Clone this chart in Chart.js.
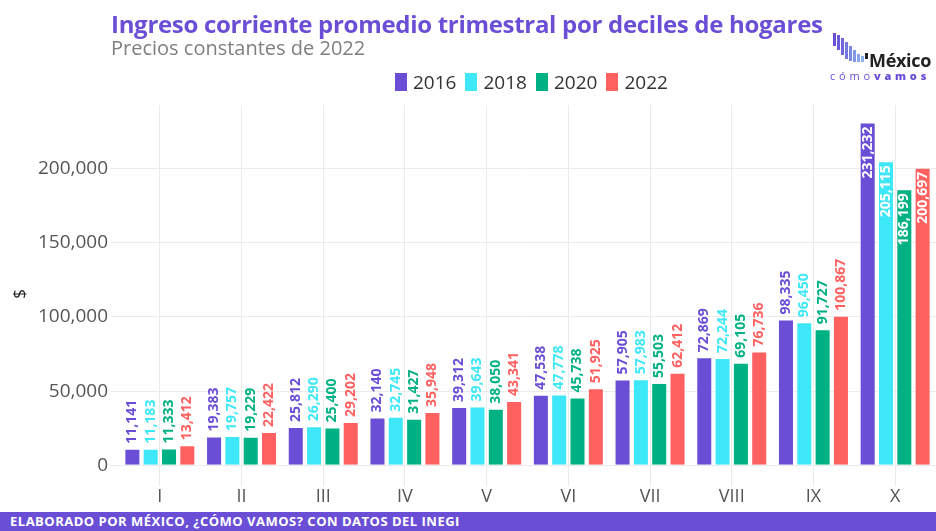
<!DOCTYPE html>
<html>
<head>
<meta charset="utf-8">
<script src="https://cdn.jsdelivr.net/npm/chart.js@4.4.0/dist/chart.umd.min.js"></script>
<style>
  body { margin: 0; background: #fff; }
  #wrap { position: relative; width: 936px; height: 531px; overflow: hidden; font-family: "Open Sans", sans-serif; }
  #chart { position: absolute; left: 0; top: 0; }
  .title { position: absolute; left: 111px; top: 12px; font-size: 24px; line-height: 1; font-weight: 700; color: #6a4fd6; letter-spacing: -0.3px; white-space: nowrap; }
  .subtitle { position: absolute; left: 111px; top: 38px; font-size: 20px; line-height: 1; color: #7f7f7f; white-space: nowrap; }
  #legend { position: absolute; left: 395px; top: 73px; display: flex; height: 18px; align-items: center; }
  #legend .item { display: flex; align-items: center; margin-right: 9px; }
  #legend .box { width: 12px; height: 18px; margin-right: 6px; }
  #legend .lbl { font-size: 19px; color: #333; line-height: 1; }
  .footer { position: absolute; left: 0; top: 512px; width: 936px; height: 19px; background: #6a4fd6; }
  .footer span { position: absolute; left: 10px; top: 3px; font-size: 13px; line-height: 1; font-weight: 700; color: #fff; letter-spacing: 0.5px; white-space: nowrap; }
  .logo-bars span { position: absolute; width: 3px; }
  .logo-name { position: absolute; left: 869px; top: 51px; font-size: 18px; font-weight: 700; color: #222; line-height: 1; letter-spacing: -0.3px; }
  .logo-sub { position: absolute; left: 830px; top: 70px; font-size: 11px; color: #6a4fd6; letter-spacing: 3.8px; line-height: 1; }
  .logo-sub b { font-weight: 800; }
</style>
</head>
<body>
<div id="wrap">
  <canvas id="chart" width="936" height="531"></canvas>
  <div class="title">Ingreso corriente promedio trimestral por deciles de hogares</div>
  <div class="subtitle">Precios constantes de 2022</div>
  <div id="legend"></div>
  <div class="logo-bars" id="logoBars"></div>
  <div class="logo-name">México</div>
  <div class="logo-sub">cómo<b>vamos</b></div>
  <div class="footer"><span>ELABORADO POR MÉXICO, ¿CÓMO VAMOS? CON DATOS DEL INEGI</span></div>
</div>
<script>
// Deciles
const deciles = ["I", "II", "III", "IV", "V", "VI", "VII", "VIII", "IX", "X"];
const years = ["2016", "2018", "2020", "2022"];
// Ingreso corriente promedio trimestral (pesos de 2022)
const values2016 = [11141, 19383, 25812, 32140, 39312, 47538, 57905, 72869, 98335, 231232];
const values2018 = [11183, 19757, 26290, 32745, 39643, 47778, 57983, 72244, 96450, 205115];
const values2020 = [11333, 19229, 25400, 31427, 38050, 45738, 55503, 69105, 91727, 186199];
const values2022 = [13412, 22422, 29202, 35948, 43341, 51925, 62412, 76736, 100867, 200697];
const yTicks = [0, 50000, 100000, 150000, 200000];

const colors = ["#6a4fd6", "#3ee8f8", "#00b283", "#ff6060"];
const INSIDE_LABEL_MIN = 150000; // labels go inside the bar above this

const seriesValues = [values2016, values2018, values2020, values2022];

//Build legend
const legend = document.getElementById("legend");
years.forEach((y, i) => {
  let item = document.createElement("div");
  item.className = "item";
  item.innerHTML = `<div class="box" style="background:${colors[i]}"></div><div class="lbl">${y}</div>`;
  legend.appendChild(item);
});

//Logo bars (decoration)
const logoBars = document.getElementById("logoBars");
const barShapes = [[833, 33, 13], [837, 35, 15], [841, 38, 17], [845, 42, 17], [849, 46, 15], [853, 50, 12], [857, 54, 8], [861, 56, 6], [865, 53, 6]];
const barCols = ["#6a4fd6", "#6b5ad9", "#6f68dc", "#7478df", "#7a88e2", "#8098e5", "#86a6e8", "#8cb2eb", "#222"];
barShapes.forEach((b, i) => {
  let s = document.createElement("span");
  s.style.left = b[0] + "px";
  s.style.top = b[1] + "px";
  s.style.height = b[2] + "px";
  s.style.background = barCols[i];
  logoBars.appendChild(s);
});

const fmt = (v) => v.toLocaleString("en-US");

//Value labels rotated over each bar
const barLabels = {
  id: "barLabels",
  afterDatasetsDraw(chart) {
    const ctx = chart.ctx;
    ctx.save();
    ctx.font = "bold 14px 'Open Sans'";
    ctx.textBaseline = "middle";
    chart.data.datasets.forEach((ds, di) => {
      const meta = chart.getDatasetMeta(di);
      meta.data.forEach((bar, i) => {
        const v = ds.data[i];
        ctx.save();
        ctx.translate(bar.x, bar.y);
        ctx.rotate(-Math.PI / 2);
        if (v > INSIDE_LABEL_MIN) {
          ctx.fillStyle = "#fff";
          ctx.textAlign = "right";
          ctx.fillText(fmt(v), -4, 0);
        } else {
          ctx.fillStyle = colors[di];
          ctx.textAlign = "left";
          ctx.fillText(fmt(v), 5, 0);
        }
        ctx.restore();
      });
    });
    ctx.restore();
  },
};

const datasets = years.map((y, i) => ({
  label: y,
  data: seriesValues[i],
  backgroundColor: colors[i],
  borderColor: "rgba(255,255,255,0.45)",
  borderWidth: 1,
  categoryPercentage: 0.897,
  barPercentage: 0.875,
}));

const ctx = document.getElementById("chart").getContext("2d");
const chart = new Chart(ctx, {
  type: "bar",
  data: { labels: deciles, datasets: datasets },
  options: {
    responsive: false,
    animation: false,
    layout: { padding: { top: 105, right: 0, left: 0, bottom: 0 } },
    plugins: {
      legend: { display: false },
      tooltip: { enabled: false },
    },
    scales: {
      x: {
        grid: { offset: false, color: "#ebebeb", tickLength: 3 },
        border: { display: false },
        ticks: { color: "#555", font: { size: 18, family: "'Open Sans'" }, padding: 0 },
        afterFit(scale) { scale.height = 48; },
      },
      y: {
        min: -12000,
        max: 243000,
        grid: { color: "#ebebeb", tickLength: 8 },
        border: { display: false },
        afterBuildTicks(scale) { scale.ticks = yTicks.map((v) => ({ value: v })); },
        ticks: {
          color: "#555",
          font: { size: 19, family: "'Open Sans'" },
          padding: 3,
          callback: (v) => fmt(v),
        },
        title: {
          display: true,
          text: "$",
          color: "#222",
          font: { size: 17, family: "'Open Sans'" },
          padding: { top: 10, bottom: 0 },
        },
        afterFit(scale) { scale.width = 119; },
      },
    },
  },
  plugins: [barLabels],
});
</script>
</body>
</html>
